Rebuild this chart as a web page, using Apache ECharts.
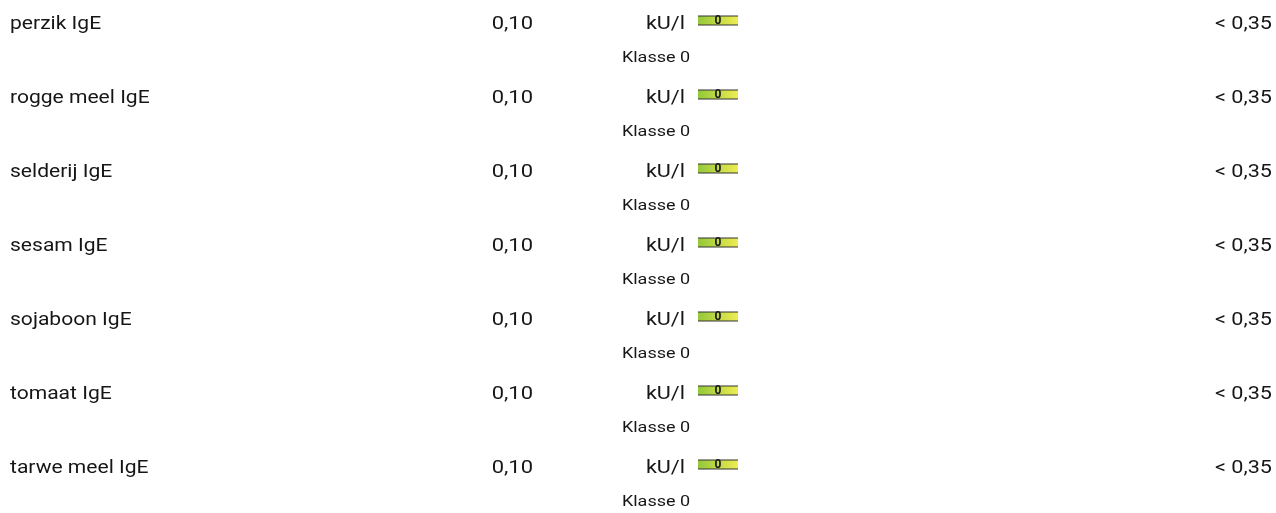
<!DOCTYPE html>
<html>
<head>
<meta charset="utf-8">
<script src="https://cdn.jsdelivr.net/npm/echarts@6/dist/echarts.min.js"></script>
<style>
	html, body { margin: 0; padding: 0; background: #fff; }
	#chart { width: 1276px; height: 513px; }
</style>
</head>
<body>
<div id="chart"></div>
<script>
	var names = ["perzik IgE", "rogge meel IgE", "selderij IgE", "sesam IgE", "sojaboon IgE", "tomaat IgE", "tarwe meel IgE"]; //allergenen
	var values = [0.10, 0.10, 0.10, 0.10, 0.10, 0.10, 0.10]; //uitslag
	var units = ["kU/l", "kU/l", "kU/l", "kU/l", "kU/l", "kU/l", "kU/l"]; //eenheid
	var classes = [0, 0, 0, 0, 0, 0, 0]; //klasse
	var refs = ["< 0,35", "< 0,35", "< 0,35", "< 0,35", "< 0,35", "< 0,35", "< 0,35"]; //referentie

	var font = "Roboto, 'Noto Sans', sans-serif";
	var textColor = "#161616";

	function fmt(v) {
		return v.toFixed(2).replace(".", ",");
	}

	var rows = names.map(function(n, i) {
		return [0, i];
	});

	var chart = echarts.init(document.getElementById("chart"));
	var option = {
		backgroundColor: "#fff",
		animation: false,
		grid: { left: 0, right: 0, top: 23, height: 444 },
		xAxis: { type: "value", min: 0, max: 1276, show: false },
		yAxis: { type: "value", min: 0, max: 6, inverse: true, show: false },
		series: [{
			type: "custom",
			data: rows,
			renderItem: function(params, api) {
				var i = params.dataIndex;
				var p = api.coord([0, api.value(1)]);
				var y = p[1];
				//tekst iets breder, zoals het origineel
				var txt = function(x, yy, s, align, size, weight, sx) {
					return {
						type: "text",
						x: x, y: yy, scaleX: sx || 1.2,
						style: {
							x: 0, y: 0, text: s, align: align, verticalAlign: "middle",
							fill: textColor, font: (weight || "normal") + " " + size + "px " + font
						}
					};
				};
				return {
					type: "group",
					children: [
						txt(10, y + 1.5, names[i], "left", 18, "normal", 1.17),
						txt(533, y + 1, fmt(values[i]), "right", 18, "normal", 1.22),
						txt(685, y + 1, units[i], "right", 18),
						{
							type: "rect",
							shape: { x: 698, y: y - 7, width: 40, height: 9 },
							style: {
								fill: new echarts.graphic.LinearGradient(0, 0, 1, 0, [
									{ offset: 0, color: "#94c83a" },
									{ offset: 1, color: "#eeec52" }
								])
							}
						},
						{
							type: "line",
							shape: { x1: 698, y1: y - 7, x2: 738, y2: y - 7 },
							style: { stroke: "#333", lineWidth: 1 }
						},
						{
							type: "line",
							shape: { x1: 698, y1: y + 2, x2: 738, y2: y + 2 },
							style: { stroke: "#333", lineWidth: 1 }
						},
						txt(718, y - 2, String(classes[i]), "center", 12, "bold", 1),
						txt(656, y + 35, "Klasse " + classes[i], "center", 15),
						txt(1272, y + 1, refs[i], "right", 18)
					]
				};
			}
		}]
	};
	chart.setOption(option);
</script>
</body>
</html>
